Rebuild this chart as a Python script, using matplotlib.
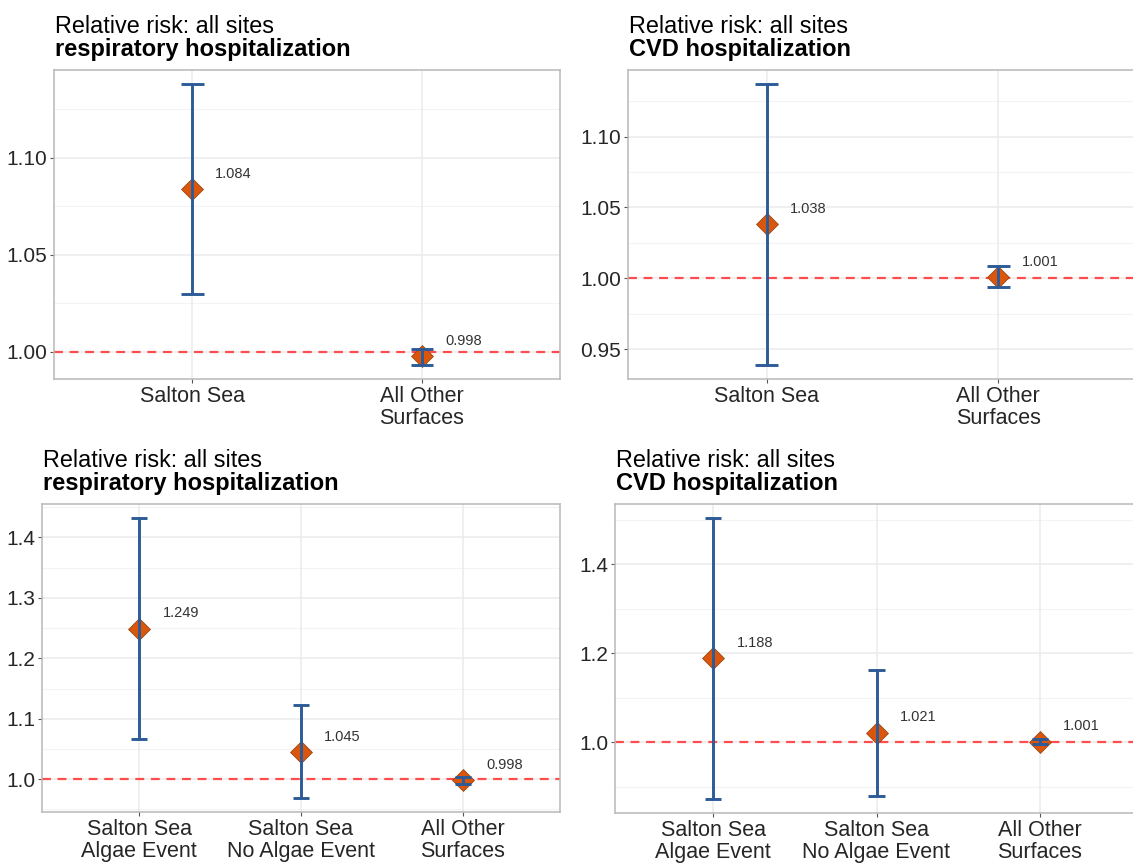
import matplotlib
matplotlib.use("Agg")
import matplotlib.pyplot as plt
import numpy as np

plt.rcParams['font.family'] = ['Liberation Sans', 'DejaVu Sans']

W, H = 1133, 863

# categories
two_sites = ["Salton Sea", "All Other\nSurfaces"]
three_sites = ["Salton Sea\nAlgae Event", "Salton Sea\nNo Algae Event", "All Other\nSurfaces"]

# relative risk + 95% CI
resp_rr = [1.084, 0.998]
resp_lo = [1.030, 0.9933]
resp_hi = [1.138, 1.0017]

cvd_rr = [1.038, 1.001]
cvd_lo = [0.939, 0.9937]
cvd_hi = [1.137, 1.0085]

resp_algae_rr = [1.249, 1.045, 0.998]
resp_algae_lo = [1.066, 0.969, 0.992]
resp_algae_hi = [1.432, 1.122, 1.004]

cvd_algae_rr = [1.188, 1.021, 1.001]
cvd_algae_lo = [0.872, 0.879, 0.995]
cvd_algae_hi = [1.504, 1.162, 1.007]

resp_ticks = [1.00, 1.05, 1.10]
cvd_ticks = [0.95, 1.00, 1.05, 1.10]
resp_algae_ticks = [1.0, 1.1, 1.2, 1.3, 1.4]
cvd_algae_ticks = [1.0, 1.2, 1.4]

BLUE = '#2c5b97'
ORANGE = '#d9560c'
RED = '#ff4d4d'


def draw_panel(fig, box, cats, rr, lo, hi, yticks, fmt, outcome):
    l, t, r, b = box
    ax = fig.add_axes([l / W, 1 - b / H, (r - l) / W, (b - t) / H])
    x = np.arange(1, len(cats) + 1)

    # ggplot-like limits
    ymin, ymax = min(lo), max(hi)
    pad = (ymax - ymin) * 0.05
    ax.set_ylim(ymin - pad, ymax + pad)
    ax.set_xlim(0.4, len(cats) + 0.6)

    # grid
    step = yticks[1] - yticks[0]
    minors = np.arange(yticks[0] - step / 2, yticks[-1] + step, step)
    for m in minors:
        ax.axhline(m, color='#f3f3f3', lw=0.8, zorder=0)
    for yt in yticks:
        ax.axhline(yt, color='#ebebeb', lw=1.1, zorder=0)
    for xi in x:
        ax.axvline(xi, color='#ebebeb', lw=1.1, zorder=0)

    ax.axhline(1.0, color=RED, lw=1.6, ls=(0, (4, 3)), zorder=2)

    ax.plot(x, rr, ls='none', marker='D', markersize=11, color=ORANGE,
            markeredgecolor='#8a4212', markeredgewidth=0.5, zorder=3)
    ax.vlines(x, lo, hi, color=BLUE, lw=2.1, zorder=4)
    ax.hlines(lo, x - 0.05, x + 0.05, color=BLUE, lw=2.1, zorder=4)
    ax.hlines(hi, x - 0.05, x + 0.05, color=BLUE, lw=2.1, zorder=4)

    for xi, v in zip(x, rr):
        ax.annotate(f"{v:.3f}", (xi, v), xytext=(30, 11), textcoords='offset points',
                    ha='center', va='center', fontsize=10.5, color='#333333')

    ax.set_xticks(x)
    ax.set_xticklabels(cats, fontsize=15.5, color='#262626', linespacing=1.05)
    ax.set_yticks(yticks)
    ax.set_yticklabels([fmt.format(v) for v in yticks], fontsize=15, color='#262626')
    ax.tick_params(length=3, width=0.8, color='#555555', pad=2)

    for s in ax.spines.values():
        s.set_color('#b8b8b8')
        s.set_linewidth(1.1)

    ax.annotate("Relative risk: all sites", (0, 1), xycoords='axes fraction',
                xytext=(0.5, 27), textcoords='offset points', va='baseline',
                fontsize=16.8, color='black')
    ax.annotate(outcome, (0, 1), xycoords='axes fraction',
                xytext=(0.5, 10), textcoords='offset points', va='baseline',
                fontsize=17, fontweight='bold', color='black')
    return ax


fig = plt.figure(figsize=(W / 100, H / 100), dpi=100)
fig.patch.set_facecolor('white')

draw_panel(fig, (54, 70, 560, 379), two_sites, resp_rr, resp_lo, resp_hi,
           resp_ticks, "{:.2f}", "respiratory hospitalization")
draw_panel(fig, (628, 70, 1137, 379), two_sites, cvd_rr, cvd_lo, cvd_hi,
           cvd_ticks, "{:.2f}", "CVD hospitalization")
draw_panel(fig, (42, 504, 560, 812), three_sites, resp_algae_rr, resp_algae_lo,
           resp_algae_hi, resp_algae_ticks, "{:.1f}", "respiratory hospitalization")
draw_panel(fig, (615, 504, 1138, 813), three_sites, cvd_algae_rr, cvd_algae_lo,
           cvd_algae_hi, cvd_algae_ticks, "{:.1f}", "CVD hospitalization")

fig.savefig('out.png', dpi=100)
